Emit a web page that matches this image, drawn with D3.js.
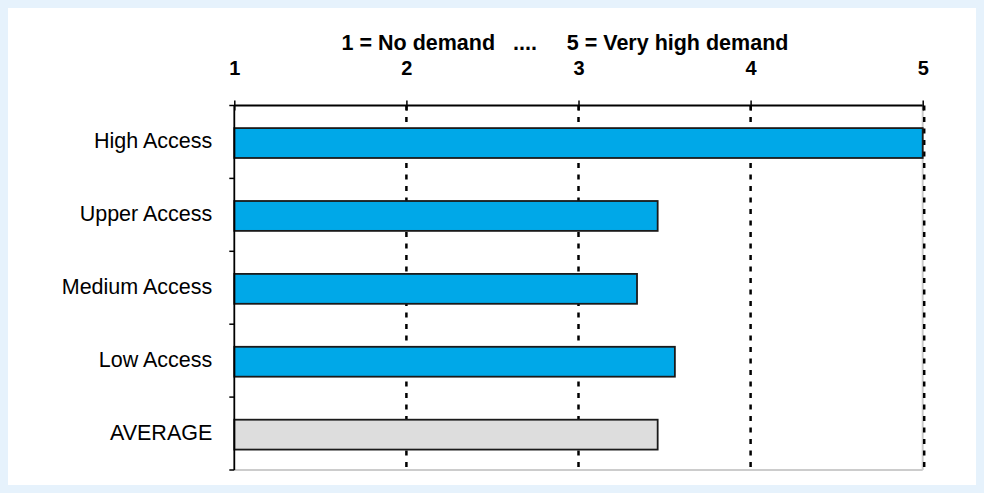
<!DOCTYPE html>
<html>
<head>
<meta charset="utf-8">
<script src="https://cdn.jsdelivr.net/npm/d3@7"></script>
<style>
  html, body { margin: 0; padding: 0; background: #e6f2fc; }
  #chart { position: absolute; left: 8px; top: 8px; width: 968px; height: 477px; background: #fff; }
  text { font-family: "Liberation Sans", Arial, sans-serif; }
</style>
</head>
<body>
<div id="chart"></div>
<script>
// --- data ---
const categories = ["High Access", "Upper Access", "Medium Access", "Low Access", "AVERAGE"];
const values = [5.0, 3.46, 3.34, 3.56, 3.46];
const tickValues = [1, 2, 3, 4, 5];
const title = "1 = No demand   ....     5 = Very high demand";

const W = 968, H = 477;
const margin = { top: 97.5, right: 53.3, bottom: 15, left: 226.3 };
const innerW = W - margin.left - margin.right;
const innerH = H - margin.top - margin.bottom;

const svg = d3.select("#chart").append("svg")
    .attr("width", W)
    .attr("height", H);

const g = svg.append("g")
    .attr("transform", `translate(${margin.left},${margin.top})`);

const x = d3.scaleLinear().domain([1, 5]).range([0, innerW]);
const y = d3.scaleBand().domain(categories).range([0, innerH]).padding(0);
const step = y.step();

// bottom & right light grey border
g.append("line")
    .attr("x1", 0).attr("x2", innerW)
    .attr("y1", innerH).attr("y2", innerH)
    .attr("stroke", "#cccccc").attr("stroke-width", 2);
g.append("line")
    .attr("x1", innerW).attr("x2", innerW)
    .attr("y1", 0).attr("y2", innerH)
    .attr("stroke", "#cccccc").attr("stroke-width", 2);

// dotted grid lines
g.selectAll("line.grid")
    .data(tickValues.slice(1))
    .join("line")
    .attr("class", "grid")
    .attr("x1", d => x(d) + (d === 5 ? 1.5 : 0)).attr("x2", d => x(d) + (d === 5 ? 1.5 : 0))
    .attr("y1", 0).attr("y2", innerH)
    .attr("stroke", "#000")
    .attr("stroke-width", 2.5)
    .attr("stroke-dasharray", "5,6.5");

// bars
g.selectAll("rect.bar")
    .data(categories)
    .join("rect")
    .attr("class", "bar")
    .attr("x", x(1))
    .attr("y", d => y(d) + step * 0.31)
    .attr("width", (d, i) => x(values[i]) - x(1))
    .attr("height", step * 0.41)
    .attr("fill", d => d === "AVERAGE" ? "#dddddd" : "#00a8e8")
    .attr("stroke", "#1a1a1a")
    .attr("stroke-width", 1.8);

// top axis
const xAxis = g.append("g")
    .call(d3.axisTop(x).tickValues(tickValues).tickSize(5).tickFormat(d3.format("d")));
xAxis.select(".domain").attr("stroke-width", 2.2).attr("d", `M0,0H${innerW}`);
xAxis.selectAll(".tick line").attr("y1", 5).attr("y2", -5).attr("stroke-width", 1.5);
xAxis.selectAll(".tick text")
    .attr("y", -31)
    .attr("dy", 0)
    .style("font-size", "20px")
    .style("font-weight", "bold")
    .attr("fill", "#000");

// left axis
const yAxis = g.append("g");
yAxis.append("line")
    .attr("x1", 0).attr("x2", 0).attr("y1", 0).attr("y2", innerH)
    .attr("stroke", "#000").attr("stroke-width", 1.8);
yAxis.selectAll("line.ytick")
    .data(d3.range(0, categories.length + 1))
    .join("line")
    .attr("class", "ytick")
    .attr("x1", -5).attr("x2", 0)
    .attr("y1", d => d * step).attr("y2", d => d * step)
    .attr("stroke", "#000").attr("stroke-width", 1.5);

g.selectAll("text.cat")
    .data(categories)
    .join("text")
    .attr("class", "cat")
    .attr("x", -22)
    .attr("y", d => y(d) + step / 2 - 1.5)
    .attr("dy", "0.35em")
    .attr("text-anchor", "end")
    .style("font-size", "21.5px")
    .attr("fill", "#000")
    .text(d => d);

// title
svg.append("text")
    .attr("x", 557)
    .attr("y", 42)
    .attr("text-anchor", "middle")
    .style("font-size", "21.5px")
    .style("font-weight", "bold")
    .attr("xml:space", "preserve")
    .style("white-space", "pre")
    .text(title);
</script>
</body>
</html>
